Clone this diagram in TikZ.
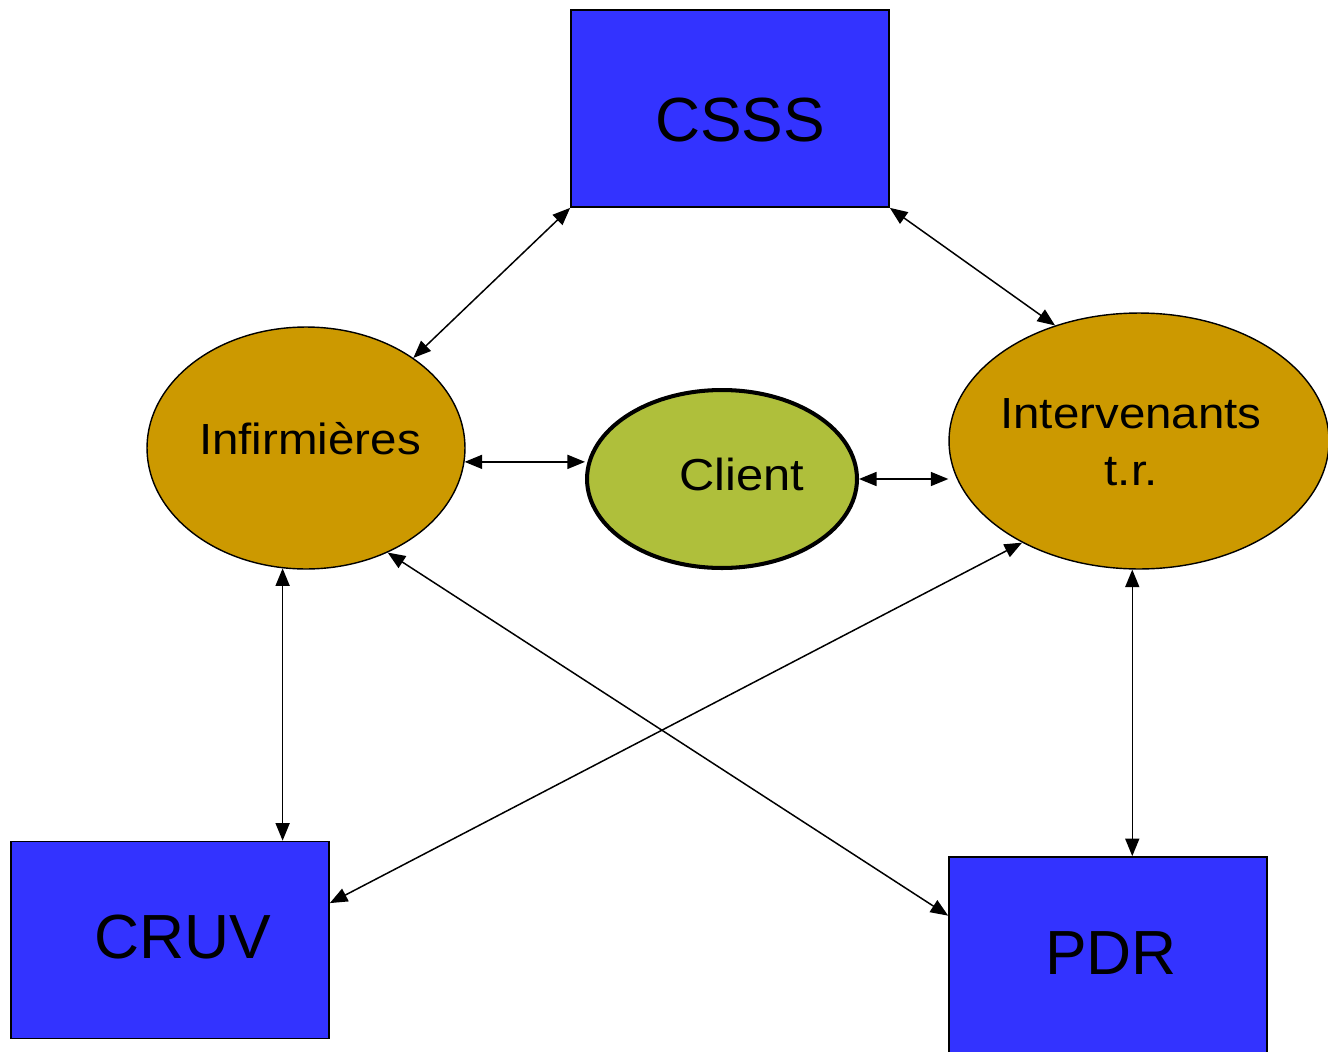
\documentclass[tikz,border=0pt]{standalone}
\usepackage{fontspec}
\setmainfont{Liberation Sans}
\newfontfamily\ellfont[FakeStretch=1.09]{Liberation Sans}
\usetikzlibrary{shapes.geometric,arrows.meta}
\definecolor{boxblue}{HTML}{3333FF}
\definecolor{ellorange}{HTML}{CC9900}
\definecolor{ellgreen}{HTML}{AFBF3B}
\tikzset{
  bluebox/.style={draw=black, line width=1pt, fill=boxblue, rectangle, inner sep=0pt, minimum width=6.36cm, minimum height=3.94cm},
  orangeell/.style={draw=black, line width=0.8pt, fill=ellorange, ellipse, inner sep=0pt},
  greenell/.style={draw=black, line width=2.3pt, fill=ellgreen, ellipse, inner sep=0pt},
  bigtxt/.style={anchor=base, inner sep=0pt, font=\fontsize{35.5}{40}\selectfont},
  elltxt/.style={anchor=base, inner sep=0pt, font=\ellfont\fontsize{24.8}{32.3}\selectfont, align=center},
  biarrow/.style={line width=0.85pt, {Triangle[length=10pt,width=8pt]}-{Triangle[length=10pt,width=8pt]}}
}
\begin{document}
\begin{tikzpicture}[x=0.02cm, y=-0.02cm]
\useasboundingbox (0,0) rectangle (1328,1051);
\clip (0,0) rectangle (1328,1051);
% boxes
\node[bluebox] (csss) at (730,108.5) {};
\node[bluebox] (cruv) at (170,940) {};
\node[bluebox] (pdr) at (1108,955.5) {};
% ellipses
\node[orangeell, minimum width=6.36cm, minimum height=4.84cm] (inf) at (306,448) {};
\node[greenell, minimum width=5.40cm, minimum height=3.56cm] (client) at (722,479) {};
\node[orangeell, minimum width=7.60cm, minimum height=5.12cm] (interv) at (1139,441) {};
% texts
\node[bigtxt] (tcsss) at (740,141) {CSSS};
\node[bigtxt] (tcruv) at (183,958) {CRUV};
\node[bigtxt] (tpdr) at (1111,974) {PDR};
\node[elltxt] (tinf) at (310,454) {Infirmières};
\node[elltxt, font=\ellfont\fontsize{25.5}{32}\selectfont] (tclient) at (742,490) {Client};
\node[elltxt] (tint1) at (1131,428) {Intervenants};
\node[elltxt] (tint2) at (1131,485) {t.r.};
% connectors
\draw[biarrow] (csss.south west) -- (inf.40);
\draw[biarrow] (csss.south east) -- (interv.126);
\draw[biarrow] (inf.-5.7) -- (inf.-5.7 -| client.west);
\draw[biarrow] (client.east) -- (interv.west |- client.east);
\draw[biarrow] (inf.259.8) -- (inf.259.8 |- cruv.north);
\draw[biarrow] (interv.267) -- (interv.267 |- pdr.north);
\draw[biarrow] (inf.-52) -- (pdr.166);
\draw[biarrow] (interv.221.5) -- (cruv.13.8);
\end{tikzpicture}
\end{document}
